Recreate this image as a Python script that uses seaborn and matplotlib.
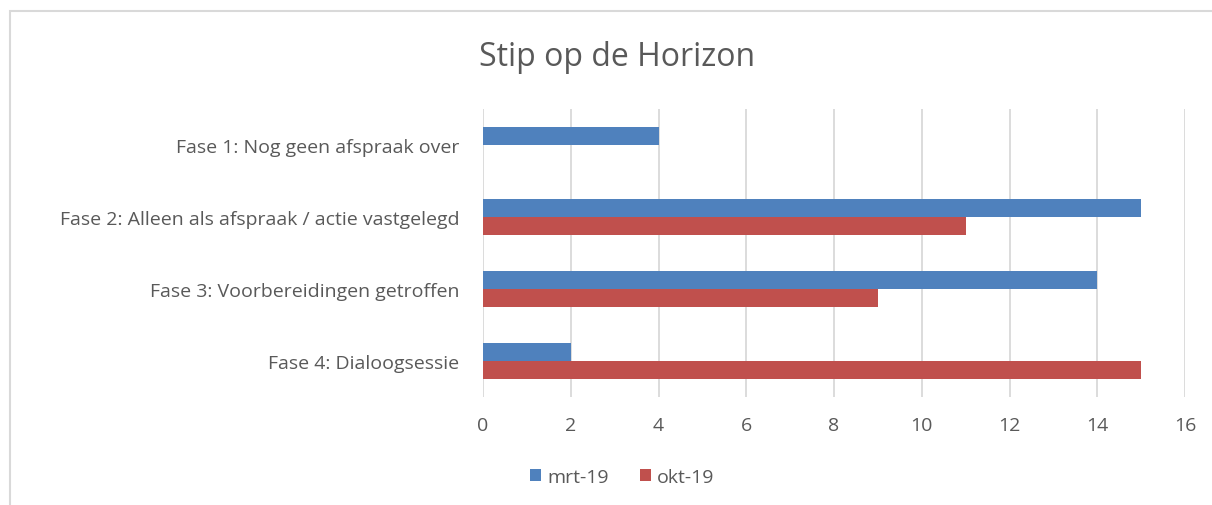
import pandas as pd
import matplotlib
matplotlib.use("Agg")
import matplotlib.pyplot as plt
import seaborn as sns
from matplotlib.patches import Rectangle

# data
fasen = [
    "Fase 1: Nog geen afspraak over",
    "Fase 2: Alleen als afspraak / actie vastgelegd",
    "Fase 3: Voorbereidingen getroffen",
    "Fase 4: Dialoogsessie",
]
mrt_19 = [4, 15, 14, 2]
okt_19 = [0, 11, 9, 15]
reeksen = ["mrt-19", "okt-19"]
kleuren = ["#4F81BD", "#C0504D"]

df = pd.DataFrame({
    "fase": fasen * 2,
    "aantal": mrt_19 + okt_19,
    "reeks": [reeksen[0]] * len(fasen) + [reeksen[1]] * len(fasen),
})

sns.set_theme(style="white")
plt.rcParams["font.family"] = ["Open Sans", "DejaVu Sans"]
tekst = "#595959"

fig = plt.figure(figsize=(12.12, 5.06), dpi=100)
ax = fig.add_axes([483 / 1212, 1 - 398 / 506, 702 / 1212, 288 / 506])

sns.barplot(data=df, y="fase", x="aantal", hue="reeks", order=fasen,
            hue_order=reeksen, palette=kleuren, width=0.5, orient="h",
            saturation=1, linewidth=0, ax=ax)

ax.set_xlim(0, 16)
ax.set_ylim(3.5, -0.5)
ax.set_xticks(range(0, 17, 2))
ax.grid(axis="x", color="#D9D9D9", linewidth=1.3)
ax.set_axisbelow(True)
for s in ax.spines.values():
    s.set_visible(False)
ax.set_xlabel("")
ax.set_ylabel("")
ax.tick_params(axis="x", colors=tekst, labelsize=14, pad=14, length=0)
ax.tick_params(axis="y", colors=tekst, labelsize=14, pad=17, length=0)

fig.text(617 / 1212, 1 - 58 / 506, "Stip op de Horizon", ha="center",
         va="center", fontsize=23, color=tekst)

ax.get_legend().remove()
handles, labels = ax.get_legend_handles_labels()
leg = fig.legend(handles, labels, loc="center",
                 bbox_to_anchor=(622 / 1212, 1 - 478 / 506),
                 ncol=2, frameon=False, fontsize=14, handlelength=0.6,
                 handleheight=0.6, handletextpad=0.3, columnspacing=1.6)
for t in leg.get_texts():
    t.set_color(tekst)

# kader rond de grafiek
fig.patches.append(Rectangle((10 / 1212, -0.1), 1.2, 0.1 + 1 - 12 / 506,
                             transform=fig.transFigure, fill=False,
                             edgecolor="#D9D9D9", linewidth=1.5))

plt.savefig("out.png", dpi=100)
